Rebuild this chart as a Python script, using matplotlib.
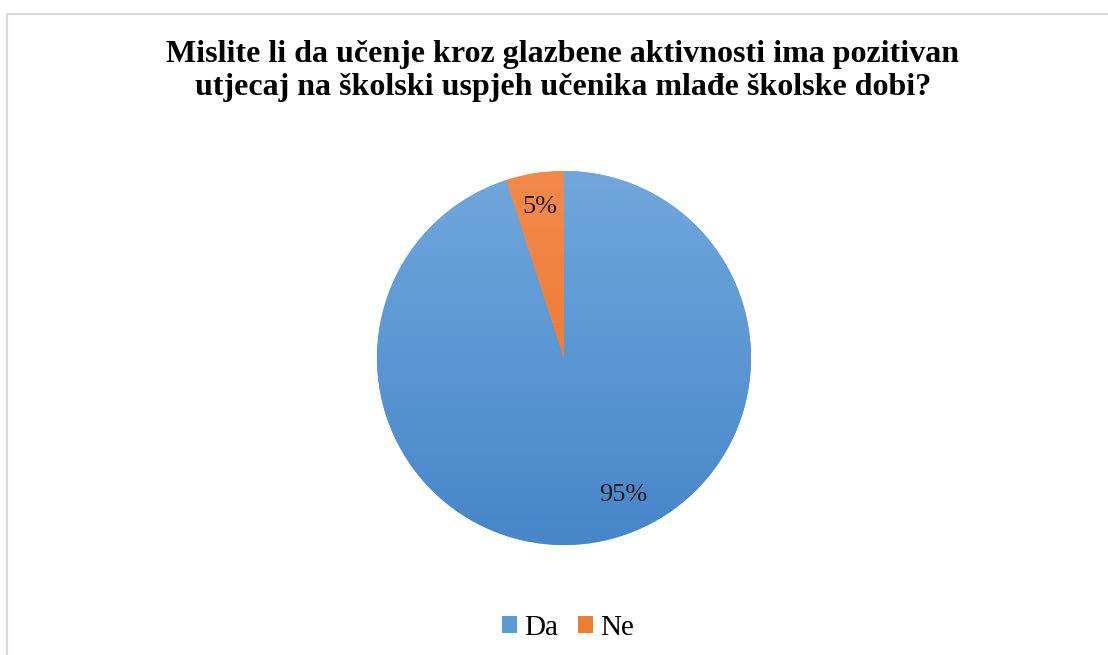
import numpy as np
import matplotlib.pyplot as plt
from matplotlib.patches import Rectangle, Patch
from matplotlib.colors import LinearSegmentedColormap

plt.rcParams['font.family'] = ['Liberation Serif', 'DejaVu Serif']

# Data
labels = ['Da', 'Ne']
values = [95, 5]
top_colors = ['#70a7dc', '#f38a4b']
bottom_colors = ['#4686c9', '#ea6f22']
legend_colors = ['#5b9bd5', '#ed7d31']
label_dist = [0.74, 0.82]
title = ('Mislite li da učenje kroz glazbene aktivnosti ima pozitivan\n'
         'utjecaj na školski uspjeh učenika mlađe školske dobi?')

W, H = 1108, 655
fig = plt.figure(figsize=(W / 100, H / 100), dpi=100)

# chart border (light gray, runs off right/bottom)
fig.patches.append(Rectangle((7 / W, -0.1), 1.2, (H - 14) / H + 0.1,
                             transform=fig.transFigure, fill=False,
                             edgecolor='#d9d9d9', linewidth=1.5))

fig.text(563 / W, 1 - 71 / H, title, ha='center', va='center',
         fontsize=23, fontweight='bold', linespacing=1.22)

# pie axes
cx, cy, r = 564, 358, 187
ax = fig.add_axes([(cx - r) / W, 1 - (cy + r) / H, 2 * r / W, 2 * r / H])
wedges, texts = ax.pie(values, startangle=90, counterclock=False,
                       colors=legend_colors,
                       wedgeprops=dict(linewidth=0))
ax.set_xlim(-1, 1)
ax.set_ylim(-1, 1)
ax.set_aspect('equal')
ax.axis('off')

grad = np.linspace(0, 1, 256).reshape(-1, 1)
for w, tc, bc, v, d in zip(wedges, top_colors, bottom_colors, values, label_dist):
    cmap = LinearSegmentedColormap.from_list('g', [tc, bc])
    im = ax.imshow(grad, extent=[-1, 1, -1, 1], origin='upper', cmap=cmap,
                   aspect='auto', zorder=w.get_zorder() + 0.1)
    im.set_clip_path(w)
    ang = np.deg2rad((w.theta1 + w.theta2) / 2)
    ax.text(d * np.cos(ang) + (0.2 if v > 50 else 0), d * np.sin(ang),
            f'{v}%', ha='center', va='center', fontsize=19,
            color='#1a1a1a', zorder=5)

handles = [Patch(facecolor=c, edgecolor='none') for c in legend_colors]
fig.legend(handles, labels, loc='center', bbox_to_anchor=(568 / W, 1 - 628 / H),
           ncol=2, frameon=False, fontsize=21, handlelength=0.5,
           handleheight=0.5, handletextpad=0.25, columnspacing=0.7)

fig.savefig('out.png', dpi=100, facecolor='white')
